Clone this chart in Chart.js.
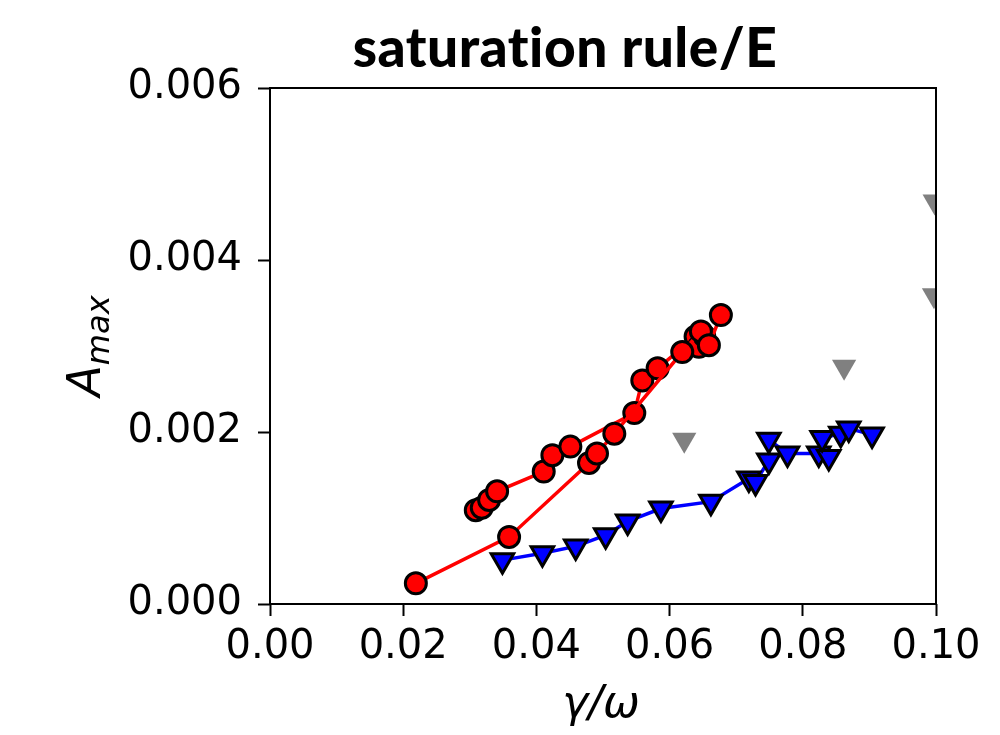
<!DOCTYPE html>
<html>
<head>
<meta charset="utf-8">
<script src="https://cdn.jsdelivr.net/npm/chart.js@4.4.1/dist/chart.umd.min.js"></script>
<style>
  html, body { margin: 0; padding: 0; background: #ffffff; }
  #wrap { width: 1000px; height: 735px; }
</style>
</head>
<body>
<div id="wrap"><canvas id="chart" width="1000" height="735"></canvas></div>
<script>
// values (x = gamma/omega, y = A_max)
const redLowX = [0.0219, 0.0359, 0.0479, 0.0491, 0.0517, 0.0619, 0.0647, 0.0659, 0.0677];
const redLowY = [0.00024, 0.00078, 0.00164, 0.00175, 0.00198, 0.00293, 0.00317, 0.00301, 0.00336];

const redHighX = [0.0309, 0.0318, 0.0329, 0.0341, 0.0411, 0.0424, 0.0451, 0.0547, 0.0559, 0.0582, 0.0639, 0.0644, 0.0652];
const redHighY = [0.00109, 0.00112, 0.00121, 0.00131, 0.00154, 0.00173, 0.00183, 0.00222, 0.0026, 0.00274, 0.00311, 0.00299, 0.00312];

const blueX = [0.0349, 0.0409, 0.0459, 0.0504, 0.0537, 0.0587, 0.0662, 0.0719, 0.0729, 0.0749, 0.0749, 0.0777, 0.0824, 0.0839, 0.0829, 0.0857, 0.0869, 0.0904];
const blueY = [0.00051, 0.00059, 0.00067, 0.0008, 0.00096, 0.00111, 0.00119, 0.00146, 0.00142, 0.00167, 0.00191, 0.00175, 0.00175, 0.00171, 0.00193, 0.00198, 0.00204, 0.00197];

const grayX = [0.0622, 0.0862, 0.0998, 0.0997];
const grayY = [0.00191, 0.00276, 0.00468, 0.00359];

const xTicks = [0, 0.02, 0.04, 0.06, 0.08, 0.1];
const yTicks = [0, 0.002, 0.004, 0.006];

const titleText = 'saturation rule/E';
const xTitle = 'γ/ω';

function pairs(xs, ys) {
  return xs.map((x, i) => ({ x: x, y: ys[i] }));
}

// frame box, figure title and axis titles
const decorations = {
  id: 'decorations',
  afterDraw(chart) {
    const ctx = chart.ctx;
    const a = chart.chartArea;
    ctx.save();
    ctx.strokeStyle = '#000000';
    ctx.lineWidth = 2;
    ctx.strokeRect(a.left, a.top, a.right - a.left, a.bottom - a.top);

    // title, sized to the reference width (letter spacing keeps the "ti" apart)
    ctx.letterSpacing = '0.5px';
    let size = 48;
    ctx.font = `900 ${size}px Lato`;
    const w = ctx.measureText(titleText).width;
    size = size * 426 / w;
    ctx.font = `900 ${size}px Lato`;
    ctx.fillStyle = '#000000';
    ctx.textAlign = 'center';
    ctx.textBaseline = 'alphabetic';
    ctx.fillText(titleText, 565, 67);
    ctx.letterSpacing = '0px';

    // x title
    ctx.font = 'italic 44px "DejaVu Sans"';
    ctx.fillText(xTitle, 601, 717);

    // y title A_max, rotated
    ctx.translate(100, 346);
    ctx.rotate(-Math.PI / 2);
    ctx.textAlign = 'left';
    ctx.font = 'italic 46px "DejaVu Sans"';
    const wA = ctx.measureText('A').width;
    ctx.font = 'italic 32px "DejaVu Sans"';
    const wSub = ctx.measureText('max').width;
    const start = -(wA + wSub) / 2;
    ctx.font = 'italic 46px "DejaVu Sans"';
    ctx.fillText('A', start, 0);
    ctx.font = 'italic 32px "DejaVu Sans"';
    ctx.fillText('max', start + wA, 9);
    ctx.restore();
  }
};

const tickFont = { family: 'DejaVu Sans', size: 40 };

new Chart(document.getElementById('chart'), {
  type: 'scatter',
  data: {
    datasets: [
      {
        data: pairs(redLowX, redLowY),
        showLine: true,
        borderColor: '#ff0000',
        borderWidth: 3.5,
        pointBackgroundColor: '#ff0000',
        pointBorderColor: '#000000',
        pointBorderWidth: 3,
        pointRadius: 10.5,
        pointStyle: 'circle'
      },
      {
        data: pairs(redHighX, redHighY),
        showLine: true,
        borderColor: '#ff0000',
        borderWidth: 3.5,
        pointBackgroundColor: '#ff0000',
        pointBorderColor: '#000000',
        pointBorderWidth: 3,
        pointRadius: 10.5,
        pointStyle: 'circle'
      },
      {
        data: pairs(blueX, blueY),
        showLine: true,
        borderColor: '#0000ff',
        borderWidth: 3.5,
        pointBackgroundColor: '#0000ff',
        pointBorderColor: '#000000',
        pointBorderWidth: 3,
        pointRadius: 13,
        pointStyle: 'triangle',
        pointRotation: 180
      },
      {
        data: pairs(grayX, grayY),
        showLine: false,
        clip: 0,
        pointBackgroundColor: '#808080',
        pointBorderColor: '#808080',
        pointBorderWidth: 0,
        pointRadius: 14,
        pointStyle: 'triangle',
        pointRotation: 180
      }
    ]
  },
  options: {
    responsive: false,
    animation: false,
    events: [],
    layout: { padding: { top: 88, right: 64, left: 0, bottom: 0 } },
    plugins: {
      legend: { display: false },
      title: { display: false },
      tooltip: { enabled: false }
    },
    scales: {
      x: {
        type: 'linear',
        min: 0,
        max: 0.1,
        afterFit: s => { s.height = 131; },
        afterBuildTicks: s => { s.ticks = xTicks.map(v => ({ value: v })); },
        border: { display: false },
        grid: {
          drawOnChartArea: false,
          drawTicks: true,
          tickLength: 12,
          tickWidth: 2,
          tickColor: '#000000'
        },
        ticks: {
          font: tickFont,
          color: '#000000',
          padding: 8,
          maxRotation: 0,
          autoSkip: false,
          callback: v => v.toFixed(2)
        }
      },
      y: {
        type: 'linear',
        min: 0,
        max: 0.006,
        afterFit: s => { s.width = 270; },
        afterBuildTicks: s => { s.ticks = yTicks.map(v => ({ value: v })); },
        border: { display: false },
        grid: {
          drawOnChartArea: false,
          drawTicks: true,
          tickLength: 12,
          tickWidth: 2,
          tickColor: '#000000'
        },
        ticks: {
          font: tickFont,
          color: '#000000',
          padding: 16,
          autoSkip: false,
          callback: v => v.toFixed(3)
        }
      }
    }
  },
  plugins: [decorations]
});
</script>
</body>
</html>
